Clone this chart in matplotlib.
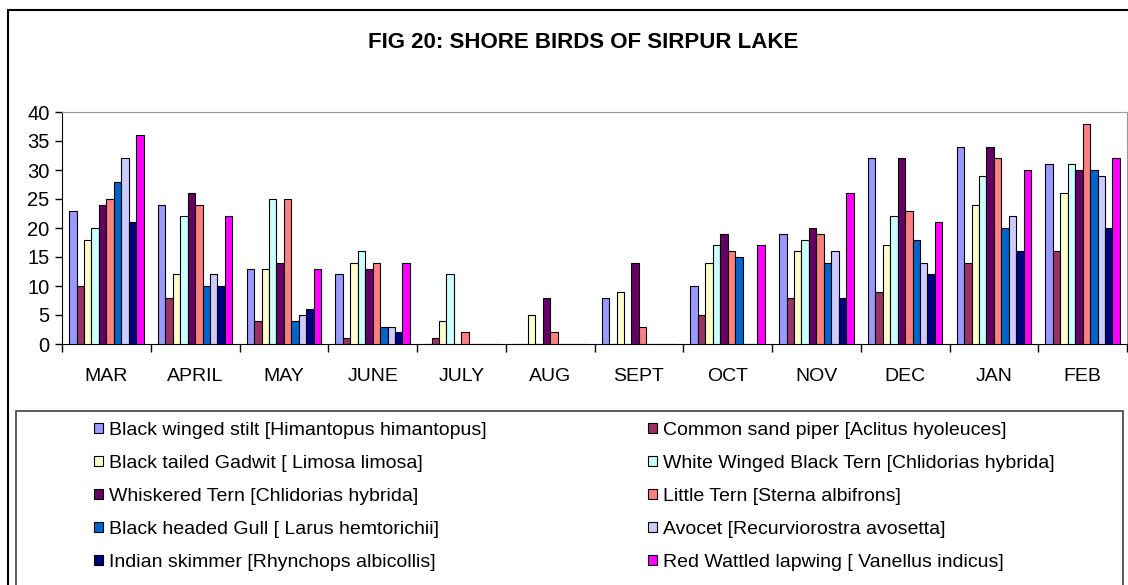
import numpy as np
import matplotlib
matplotlib.use("Agg")
import matplotlib.pyplot as plt
from matplotlib.patches import Rectangle, Patch

plt.rcParams['font.family'] = ['Liberation Sans', 'DejaVu Sans']

months = ["MAR", "APRIL", "MAY", "JUNE", "JULY", "AUG", "SEPT", "OCT", "NOV", "DEC", "JAN", "FEB"]

species = [
    "Black winged stilt [Himantopus himantopus]",
    "Common sand piper [Aclitus hyoleuces]",
    "Black tailed Gadwit [ Limosa limosa]",
    "White Winged Black Tern [Chlidorias hybrida]",
    "Whiskered Tern [Chlidorias hybrida]",
    "Little Tern [Sterna albifrons]",
    "Black headed Gull [ Larus hemtorichii]",
    "Avocet [Recurviorostra avosetta]",
    "Indian skimmer [Rhynchops albicollis]",
    "Red Wattled lapwing [ Vanellus indicus]",
]

black_winged_stilt = [23, 24, 13, 12, 0, 0, 8, 10, 19, 32, 34, 31]
common_sand_piper = [10, 8, 4, 1, 1, 0, 0, 5, 8, 9, 14, 16]
black_tailed_gadwit = [18, 12, 13, 14, 4, 5, 9, 14, 16, 17, 24, 26]
white_winged_tern = [20, 22, 25, 16, 12, 0, 0, 17, 18, 22, 29, 31]
whiskered_tern = [24, 26, 14, 13, 0, 8, 14, 19, 20, 32, 34, 30]
little_tern = [25, 24, 25, 14, 2, 2, 3, 16, 19, 23, 32, 38]
black_headed_gull = [28, 10, 4, 3, 0, 0, 0, 15, 14, 18, 20, 30]
avocet = [32, 12, 5, 3, 0, 0, 0, 0, 16, 14, 22, 29]
indian_skimmer = [21, 10, 6, 2, 0, 0, 0, 0, 8, 12, 16, 20]
red_wattled_lapwing = [36, 22, 13, 14, 0, 0, 0, 17, 26, 21, 30, 32]

series = [black_winged_stilt, common_sand_piper, black_tailed_gadwit, white_winged_tern,
          whiskered_tern, little_tern, black_headed_gull, avocet, indian_skimmer,
          red_wattled_lapwing]

colors = ["#9999FF", "#993366", "#FFFFCC", "#CCFFFF", "#660066",
          "#FF8080", "#0066CC", "#CCCCFF", "#000080", "#FF00FF"]

W, H = 1128, 585
fig = plt.figure(figsize=(W / 100, H / 100), dpi=100)

# outer chart frame
fig.add_artist(Rectangle((8 / W, -0.05), 1.2, 1 - 10 / H + 0.05, transform=fig.transFigure,
                         fill=False, edgecolor="black", linewidth=1.5))

left, right, top, bottom = 62, 1127, 112, 344
ax = fig.add_axes([left / W, 1 - bottom / H, (right - left) / W, (bottom - top) / H])

x = np.arange(len(months))
bw = 0.084
for i, (vals, c) in enumerate(zip(series, colors)):
    pos = x - 0.42 + bw * (i + 0.5)
    ax.bar(pos, vals, width=bw, color=c, edgecolor="black", linewidth=0.8, zorder=3)

ax.set_xlim(-0.5, len(months) - 0.5)
ax.set_ylim(0, 40)
ax.set_yticks(range(0, 41, 5))
ax.tick_params(axis='y', labelsize=14.5, length=5, width=1, direction='out', pad=4)
ax.set_xticks(np.arange(-0.5, len(months), 1.0))
ax.set_xticklabels([])
ax.set_xticks(x, minor=True)
ax.set_xticklabels(months, minor=True, fontsize=14)
ax.tick_params(axis='x', which='major', length=6, width=1, direction='out')
ax.tick_params(axis='x', which='minor', length=0, pad=17)
for s in ["top", "right"]:
    ax.spines[s].set_color("#999999")
for s in ["left", "bottom"]:
    ax.spines[s].set_color("black")

fig.text(583 / W, 1 - 43 / H, "FIG 20: SHORE BIRDS OF SIRPUR LAKE", ha="center", va="center",
         fontsize=16, fontweight="bold")

# legend box
fig.add_artist(Rectangle((16 / W, -0.05), (1123 - 16) / W, 1 - 411 / H + 0.05,
                         transform=fig.transFigure, fill=False, edgecolor="#404040", linewidth=1.2))

handles = [Patch(facecolor=c, edgecolor="black", linewidth=0.8) for c in colors]
for col in range(2):
    idx = list(range(col, 10, 2))
    leg = fig.legend([handles[i] for i in idx], [species[i] for i in idx],
                     loc="upper left", bbox_to_anchor=((94 if col == 0 else 648) / W, 1 - 422 / H),
                     frameon=False, fontsize=14, handlelength=0.45, handleheight=0.45,
                     handletextpad=0.3, labelspacing=0.82, borderaxespad=0, borderpad=0)

fig.savefig("out.png", dpi=100)
